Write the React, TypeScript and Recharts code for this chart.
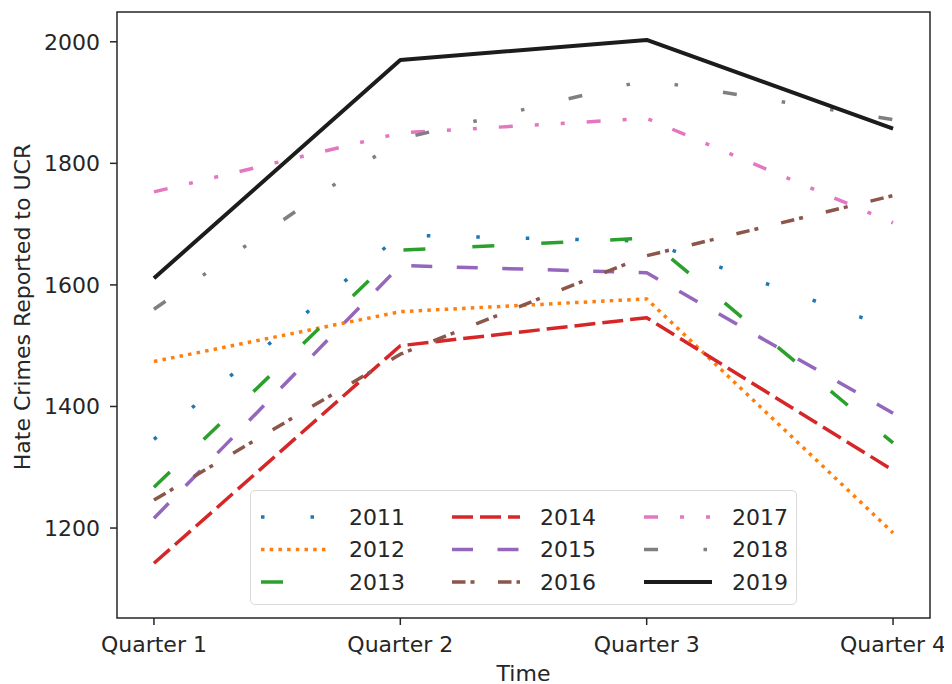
import { LineChart, Line, XAxis, YAxis, ReferenceArea, Legend } from 'recharts';

const QUARTERS = ['Quarter 1', 'Quarter 2', 'Quarter 3', 'Quarter 4'];
const YEARS = ['2011', '2012', '2013', '2014', '2015', '2016', '2017', '2018', '2019'];

const v2011 = [1346, 1682, 1672, 1528];
const v2012 = [1474, 1556, 1577, 1192];
const v2013 = [1267, 1657, 1677, 1340];
const v2014 = [1142, 1500, 1546, 1295];
const v2015 = [1216, 1632, 1620, 1389];
const v2016 = [1246, 1486, 1648, 1747];
const v2017 = [1753, 1850, 1874, 1702];
const v2018 = [1560, 1840, 1937, 1872];
const v2019 = [1611, 1970, 2003, 1857];

const Y_TICKS = [1200, 1400, 1600, 1800, 2000];

const VALUES = [v2011, v2012, v2013, v2014, v2015, v2016, v2017, v2018, v2019];

// look of each series (matplotlib-ish dash patterns scaled by line width)
const STYLES = [
  { color: '#1f77b4', dash: '3.5 46' },
  { color: '#ff7f0e', dash: '3.5 5.2' },
  { color: '#2ca02c', dash: '22 47' },
  { color: '#d62728', dash: '21 7' },
  { color: '#9467bd', dash: '21 24.5' },
  { color: '#8c564b', dash: '13.5 5 4 23.5' },
  { color: '#e377c2', dash: '14 22 4 22 4 22' },
  { color: '#7f7f7f', dash: '14 45.5 3.5 45.5 3.5 45.5' },
  { color: '#1c1c1c', dash: undefined as string | undefined },
];

const INK = '#262626';
const FONT = 'DejaVu Sans, sans-serif';

const chartData = QUARTERS.map((q, i) => {
  const row: Record<string, number | string> = { x: i, quarter: q };
  YEARS.forEach((y, k) => { row[y] = VALUES[k][i]; });
  return row;
});

const LegendBox = () => {
  const colX = [11, 202, 394];
  const rowY = [27, 59.5, 92];
  return (
    <div style={{
      position: 'absolute', left: 0, top: 0, width: 547, height: 115,
      border: '1px solid #d9d9d9', borderRadius: 5, background: 'rgba(255,255,255,0.85)',
      boxSizing: 'border-box',
    }}>
      <svg width={547} height={115} style={{ position: 'absolute', left: -1, top: -1 }}>
        {YEARS.map((y, k) => {
          const cx = colX[Math.floor(k / 3)];
          const cy = rowY[k % 3];
          return (
            <g key={y}>
              <line x1={cx} x2={cx + 68} y1={cy} y2={cy} stroke={STYLES[k].color}
                strokeWidth={k === 8 ? 4 : 3.5} strokeDasharray={STYLES[k].dash} />
              <text x={cx + 88} y={cy} dominantBaseline="central" fontSize={22}
                fontFamily={FONT} fill={INK}>{y}</text>
            </g>
          );
        })}
      </svg>
    </div>
  );
};

export default function App() {
  return (
    <LineChart width={944} height={676} data={chartData}
      margin={{ top: 4, right: 22, left: 0, bottom: 0 }}>
      <XAxis dataKey="x" type="number" domain={[-0.15, 3.15]} ticks={[0, 1, 2, 3]}
        allowDataOverflow height={66} axisLine={false} tickSize={7} tickMargin={11}
        tickLine={{ stroke: INK, strokeWidth: 1.5 }}
        tickFormatter={(v: number) => QUARTERS[v]}
        tick={{ fill: INK, fontSize: 22, fontFamily: FONT }}
        label={{
          content: () => (
            <text x={515.5} y={665} textAnchor="middle" dominantBaseline="central"
              fontSize={22} fontFamily={FONT} fill={INK}>Time</text>
          ),
        }} />
      <YAxis type="number" domain={[1052, 2049]} ticks={Y_TICKS} allowDataOverflow
        width={109} axisLine={false} tickSize={7} tickMargin={10}
        tickLine={{ stroke: INK, strokeWidth: 1.5 }}
        tick={{ fill: INK, fontSize: 22, fontFamily: FONT }}
        label={{
          content: () => (
            <text transform="translate(14,299) rotate(-90)" textAnchor="middle"
              dominantBaseline="central" fontSize={22} fontFamily={FONT} fill={INK}>
              Hate Crimes Reported to UCR
            </text>
          ),
        }} />
      <ReferenceArea x1={-0.15} x2={3.15} y1={1052} y2={2049} fill="none"
        fillOpacity={0} stroke={INK} strokeWidth={1.5} />
      {YEARS.map((y, k) => (
        <Line key={y} dataKey={y} type="linear" dot={false} activeDot={false}
          stroke={STYLES[k].color} strokeWidth={k === 8 ? 4 : 3.5}
          strokeDasharray={STYLES[k].dash} strokeLinejoin="round"
          isAnimationActive={false} />
      ))}
      <Legend content={() => <LegendBox />}
        wrapperStyle={{ left: 242, top: 482, width: 0, height: 0, overflow: 'visible' }} />
    </LineChart>
  );
}
